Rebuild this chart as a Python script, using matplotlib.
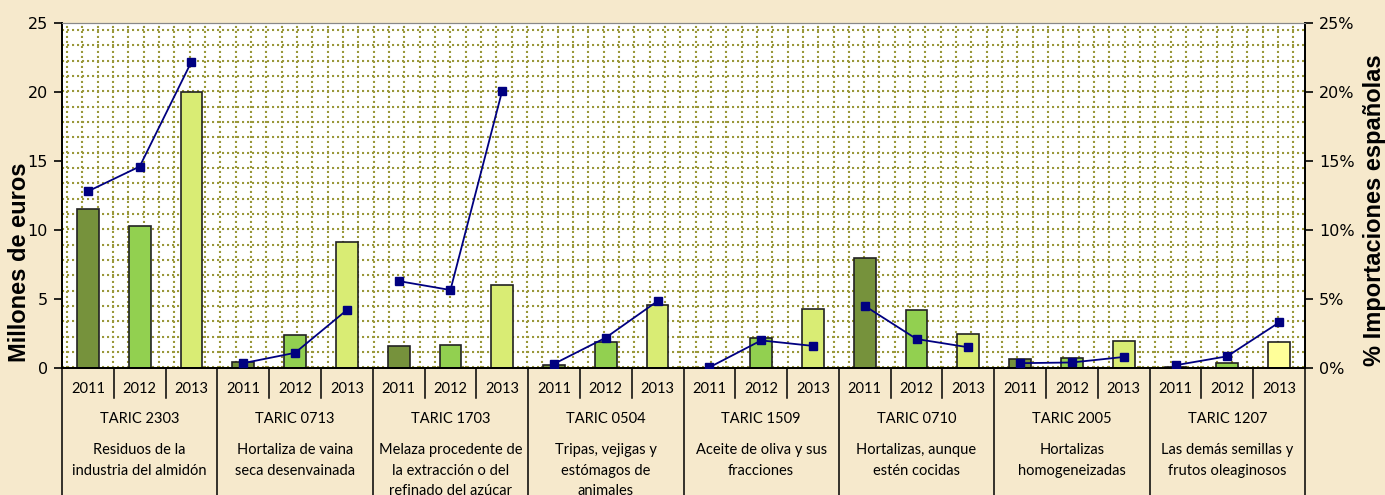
import matplotlib
matplotlib.use("Agg")
import matplotlib.pyplot as plt
import matplotlib.transforms as mtransforms
from matplotlib.ticker import FuncFormatter, MultipleLocator

# ---- data ----
years = ["2011", "2012", "2013"]
taric_codes = ["TARIC 2303", "TARIC 0713", "TARIC 1703", "TARIC 0504",
               "TARIC 1509", "TARIC 0710", "TARIC 2005", "TARIC 1207"]
descriptions = ["Residuos de la\nindustria del almidón",
                "Hortaliza de vaina\nseca desenvainada",
                "Melaza procedente de\nla extracción o del\nrefinado del azúcar",
                "Tripas, vejigas y\nestómagos de\nanimales",
                "Aceite de oliva y sus\nfracciones",
                "Hortalizas, aunque\nestén cocidas",
                "Hortalizas\nhomogeneizadas",
                "Las demás semillas y\nfrutos oleaginosos"]
# millions of euros per year (2011, 2012, 2013) per TARIC code
values_meur = [[11.5, 10.3, 20.0],
               [0.4, 2.4, 9.1],
               [1.6, 1.65, 6.0],
               [0.2, 1.85, 4.6],
               [0.0, 2.2, 4.3],
               [8.0, 4.2, 2.45],
               [0.65, 0.75, 1.95],
               [0.05, 0.35, 1.85]]
# share of Spanish imports (%)
share_pct = [[12.8, 14.6, 22.2],
             [0.35, 1.1, 4.2],
             [6.3, 5.65, 20.1],
             [0.3, 2.2, 4.85],
             [0.05, 2.0, 1.6],
             [4.5, 2.1, 1.5],
             [0.35, 0.4, 0.8],
             [0.2, 0.85, 3.3]]

# ---- style ----
W, H, DPI = 1385, 495, 100
bg = "#f6e9cc"
year_colors = ["#76923c", "#92d050", "#d9ec74"]
last_2013_color = "#ffff99"
line_color = "#000080"
grid_color = "#9a983a"
txt_font = ["Lato", "DejaVu Sans"]

fig = plt.figure(figsize=(W / DPI, H / DPI), dpi=DPI, facecolor=bg)
L, R, T, B = 62, 1305, 23, 368
ax = fig.add_axes([L / W, 1 - B / H, (R - L) / W, (B - T) / H])
ax.set_facecolor("white")

n_groups = len(taric_codes)
n_slots = n_groups * len(years)
ymax = 25
ax.set_xlim(0, n_slots)
ax.set_ylim(0, ymax)

# pattern-like dotted grid (plot area fill)
pw, ph = R - L, B - T
step = 15.33
yy = 7.0
while yy < ph:
    ax.axhline((1 - yy / ph) * ymax, color=grid_color, lw=1.5, ls=(0, (1, 1.4)), zorder=0.5)
    yy += step
xx = 5.0
while xx < pw:
    ax.axvline(xx / pw * n_slots, color=grid_color, lw=1.5, ls=(0, (1, 1.4)), zorder=0.5)
    xx += step

ax2 = ax.twinx()
ax2.set_ylim(0, 0.25)

for g in range(n_groups):
    xs = []
    for k in range(len(years)):
        i = g * 3 + k
        c = year_colors[k]
        if g == n_groups - 1 and k == 2:
            c = last_2013_color
        ax.bar(i + 0.5, values_meur[g][k], width=0.42, color=c,
               edgecolor="#222222", linewidth=1.2, zorder=2)
        xs.append(i + 0.5)
    ax2.plot(xs, [v / 100 for v in share_pct[g]], color=line_color, lw=1.3,
             marker="s", markersize=6, markerfacecolor=line_color,
             markeredgecolor=line_color, zorder=3)

ax.set_xticks([])
ax.yaxis.set_major_locator(MultipleLocator(5))
ax2.yaxis.set_major_locator(MultipleLocator(0.05))
ax2.yaxis.set_major_formatter(FuncFormatter(lambda v, p: f"{v*100:.0f}%"))
for a in (ax, ax2):
    a.tick_params(axis="y", labelsize=11.5, length=6, width=1.2, colors="black", pad=4)
    for s in ("left", "right", "bottom"):
        a.spines[s].set_linewidth(1.3)
        a.spines[s].set_color("black")
    a.spines["top"].set_color("#888888")
ax2.set_xlim(0, n_slots)

# category axis labels below
trans = mtransforms.blended_transform_factory(ax.transData, fig.transFigure)
def fy(py):
    return 1 - py / H

for i in range(n_slots):
    ax.text(i + 0.5, fy(389), years[i % 3], transform=trans, ha="center", va="center",
            fontsize=10.5, family=txt_font)
    if i % 3 != 0:
        ax.plot([i, i], [fy(B), fy(398)], transform=trans, color="black", lw=1.1,
                clip_on=False)
for g in range(n_groups + 1):
    ax.plot([g * 3, g * 3], [fy(B), 0], transform=trans, color="black", lw=1.1,
            clip_on=False)
for g in range(n_groups):
    cx = g * 3 + 1.5
    ax.text(cx, fy(419), taric_codes[g], transform=trans, ha="center", va="center",
            fontsize=10.5, family=txt_font)
    ax.text(cx, fy(443), descriptions[g], transform=trans, ha="center", va="top",
            fontsize=10.5, family=txt_font, linespacing=1.6)

fig.text(20 / W, fy(262), "Millones de euros", rotation=90, ha="center", va="center",
         fontsize=17, fontweight="bold", family=["Liberation Sans", "DejaVu Sans"])
fig.text(1375 / W, fy(210), "% Importaciones españolas", rotation=90, ha="center",
         va="center", fontsize=17, fontweight="bold",
         family=["Liberation Sans", "DejaVu Sans"])

fig.savefig("out.png", dpi=DPI, facecolor=bg)
